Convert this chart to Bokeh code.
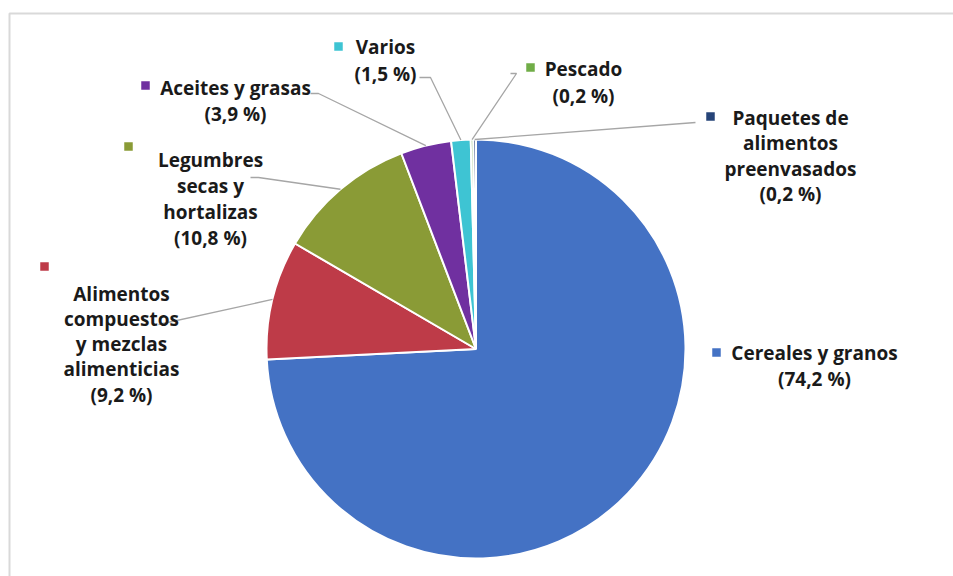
import math
from bokeh.plotting import figure
from bokeh.models import Range1d, ColumnDataSource
from bokeh.core.properties import value
from bokeh.embed import file_html
from bokeh.resources import INLINE

# ---------------- data ----------------
categories = ["Cereales y granos",
              "Alimentos compuestos y mezclas alimenticias",
              "Legumbres secas y hortalizas",
              "Aceites y grasas",
              "Varios",
              "Pescado",
              "Paquetes de alimentos preenvasados"]
shares = [74.2, 9.2, 10.8, 3.9, 1.5, 0.2, 0.2]
pct_labels = ["(74,2 %)", "(9,2 %)", "(10,8 %)", "(3,9 %)", "(1,5 %)", "(0,2 %)", "(0,2 %)"]
colors = ["#4472C4", "#BE3B48", "#8A9B36", "#7030A0", "#3EC4D3", "#70AD47", "#264478"]

# ---------------- layout (pixel space, y down) ----------------
W, H = 953, 576
CX, CY, R = 475.5, 348.5, 209.5
FONT = "Open Sans"
TXT = "#1a1a1a"

# wrapped label lines, label center x, first line y, line step, marker position
wrap = [["Cereales y granos"],
        ["Alimentos", "compuestos", "y mezclas", "alimenticias"],
        ["Legumbres", "secas y", "hortalizas"],
        ["Aceites y grasas"],
        ["Varios"],
        ["Pescado"],
        ["Paquetes de", "alimentos", "preenvasados"]]
label_cx = [814, 121, 210, 235, 385, 583, 790]
label_y0 = [352, 293, 159, 87, 46, 68, 117]
label_step = [26, 25.3, 26, 26, 27, 27, 25.5]
marker_xy = [(716, 352), (44, 266), (128, 146), (145, 85), (338, 46), (530, 67), (710, 116)]
# label-side start of leader lines (None = no leader)
leader_start = [None,
                [(158, 324)],
                [(250, 177), (258, 177)],
                [(310, 93), (318, 93)],
                [(419, 77), (430, 77)],
                [(510, 73), (516, 73)],
                [(695, 122)]]


def Y(py):
    return H - py


p = figure(width=W, height=H, output_backend="svg", toolbar_location=None,
           x_range=Range1d(0, W), y_range=Range1d(0, H), min_border=0)
p.axis.visible = False
p.grid.visible = False
p.outline_line_color = None
p.background_fill_color = "white"
p.border_fill_color = "white"

# chart frame
p.line(x=[9, 9, W + 5], y=[Y(H + 5), Y(13), Y(13)], line_color="#d9d9d9", line_width=2)

# pie wedges
cum = [0.0]
for s in shares:
    cum.append(cum[-1] + s)
total = cum[-1]
starts = [math.pi / 2 - 2 * math.pi * cum[i] / total for i in range(len(shares))]
ends = [math.pi / 2 - 2 * math.pi * cum[i + 1] / total for i in range(len(shares))]
src = ColumnDataSource(dict(start=starts, end=ends, color=colors))
p.wedge(x=CX, y=Y(CY), radius=R, start_angle="start", end_angle="end",
        direction="clock", fill_color="color", line_color="white", line_width=2,
        source=src)

# leader lines
for i, pts in enumerate(leader_start):
    if pts is None:
        continue
    mid = (starts[i] + ends[i]) / 2
    ex = CX + R * math.cos(mid)
    ey = Y(CY) + R * math.sin(mid)
    xs = [q[0] for q in pts] + [ex]
    ys = [Y(q[1]) for q in pts] + [ey]
    p.line(x=xs, y=ys, line_color="#a6a6a6", line_width=1.3)

# legend-like markers
p.rect(x=[m[0] for m in marker_xy], y=[Y(m[1]) for m in marker_xy],
       width=8.5, height=8.5, fill_color=colors, line_color=None)

# labels
tx, ty, tt = [], [], []
for i in range(len(categories)):
    lines = wrap[i] + [pct_labels[i]]
    for k, ln in enumerate(lines):
        tx.append(label_cx[i])
        ty.append(Y(label_y0[i] + k * label_step[i]))
        tt.append(ln)
p.text(x=tx, y=ty, text=tt, text_align="center", text_baseline="middle",
       text_font=value(FONT), text_font_style="bold", text_font_size="19px",
       text_color=TXT)

open("out.html", "w").write(file_html(p, INLINE))
